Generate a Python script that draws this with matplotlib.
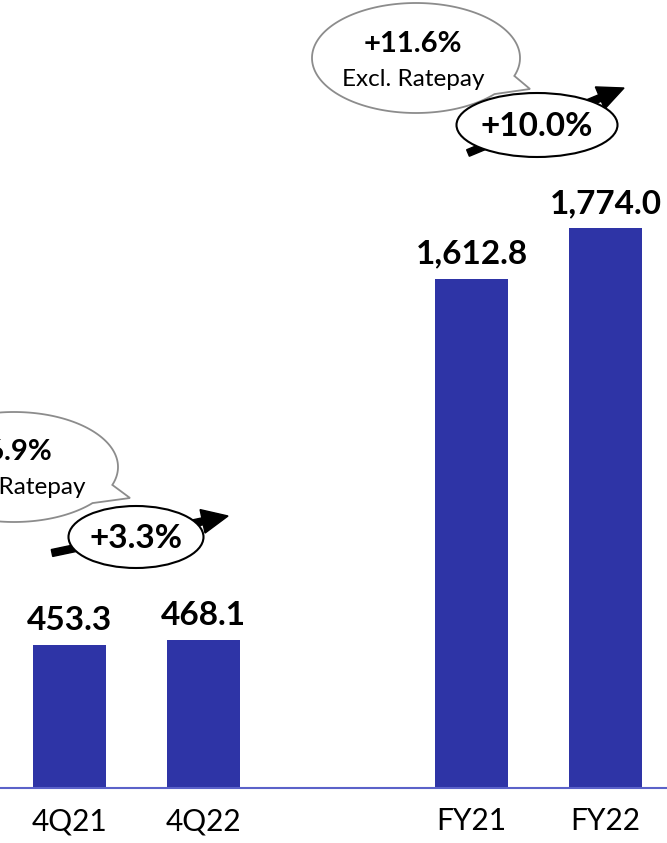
import matplotlib
matplotlib.use("Agg")
import matplotlib.pyplot as plt
import numpy as np
from matplotlib.patches import Ellipse, Polygon, FancyArrow

plt.rcParams['font.family'] = ['Lato', 'DejaVu Sans']

# data
categories = ['4Q21', '4Q22', 'FY21', 'FY22']
positions = [0, 1, 3, 4]
values = [453.3, 468.1, 1612.8, 1774.0]
value_labels = ['453.3', '468.1', '1,612.8', '1,774.0']
growth_labels = ['+3.3%', '+10.0%']
excl_labels = ['+6.9%', '+11.6%']

W, H = 667, 843
fig = plt.figure(figsize=(W / 100, H / 100), dpi=100)

# main bar axes: baseline at 788 px from top, 134 px per slot
slot = 134.0
x0 = 69.5
ax = fig.add_axes([0, 55 / H, 1, 788 / H])
ax.bar(positions, values, width=73 / slot, color='#2E34A6', zorder=2)
ax.set_xlim(-x0 / slot, (W - x0) / slot)
ax.set_ylim(0, 788 / 0.3156)

for p, v, lab in zip(positions, values, value_labels):
    ax.annotate(lab, (p, v), xytext=(0, 11), textcoords='offset points',
                ha='center', va='baseline', fontsize=24, fontweight='bold')

ax.set_xticks(positions)
ax.set_xticklabels(categories, fontsize=21.5)
ax.tick_params(axis='x', length=0, pad=14)
ax.set_yticks([])
for s in ['top', 'left', 'right']:
    ax.spines[s].set_visible(False)
ax.spines['bottom'].set_color('#5B62C9')
ax.spines['bottom'].set_linewidth(1.5)

# overlay in pixel units for the callouts
ov = fig.add_axes([0, 0, 1, 1])
ov.set_xlim(0, W)
ov.set_ylim(H, 0)
ov.axis('off')


def bubble(cx, cy, a, b, t1, t2, tip):
    th = np.radians(np.linspace(t2, t1 + 360, 200))
    pts = list(zip(cx + a * np.cos(th), cy + b * np.sin(th)))
    pts.append(tip)
    ov.add_patch(Polygon(pts, closed=True, facecolor='white',
                         edgecolor='#8C8C8C', linewidth=1.3, zorder=3))


def growth(start, tip, center, w, h, label):
    dx, dy = tip[0] - start[0], tip[1] - start[1]
    ov.add_patch(FancyArrow(start[0], start[1], dx, dy, width=7,
                            head_width=24, head_length=26,
                            length_includes_head=True,
                            color='black', zorder=4))
    ov.add_patch(Ellipse(center, w, h, facecolor='white', edgecolor='black',
                         linewidth=1.5, zorder=5))
    ov.text(center[0], center[1] + 2, label, ha='center', va='center',
            fontsize=24, fontweight='bold', zorder=6)


# quarter callout
bubble(14, 467, 104, 55, 19, 41, (130, 498))
ov.text(12, 452, excl_labels[0], ha='center', va='center',
        fontsize=21, fontweight='bold', zorder=6)
ov.text(14, 487, 'Excl. Ratepay', ha='center', va='center',
        fontsize=17.5, zorder=6)
growth((52, 553), (228, 516), (136, 537), 135, 62, growth_labels[0])

# full-year callout
bubble(416, 58, 104, 55, 19, 41, (530, 89))
ov.text(413, 44, excl_labels[1], ha='center', va='center',
        fontsize=21, fontweight='bold', zorder=6)
ov.text(413, 79, 'Excl. Ratepay', ha='center', va='center',
        fontsize=17.5, zorder=6)
growth((468, 153), (624, 88), (537, 125), 161, 64, growth_labels[1])

fig.savefig('out.png', dpi=100)
